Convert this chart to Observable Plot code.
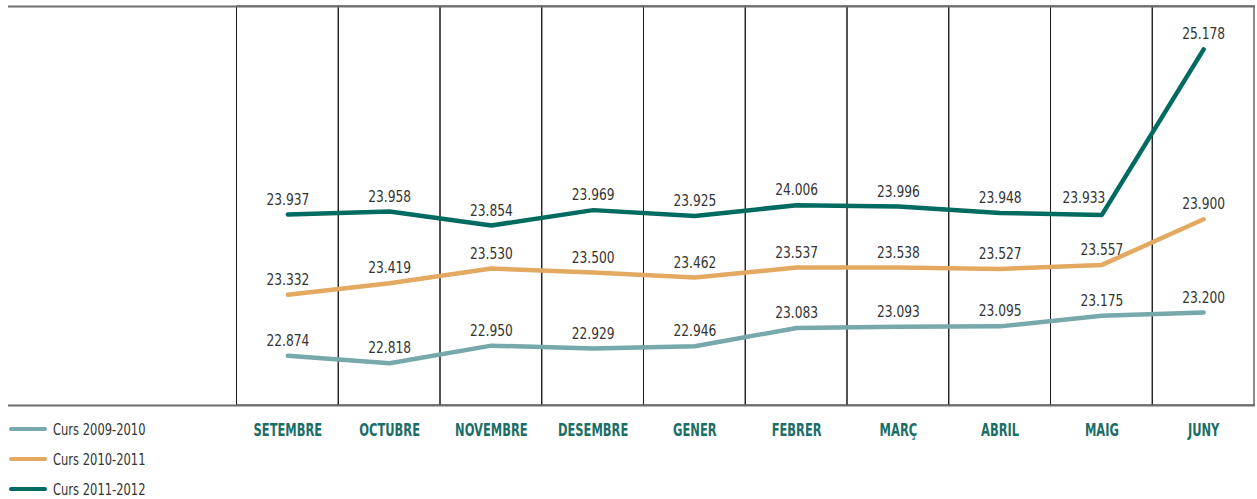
<!DOCTYPE html>
<html>
<head>
<meta charset="utf-8">
<script src="https://cdn.jsdelivr.net/npm/d3@7"></script>
<script src="https://cdn.jsdelivr.net/npm/@observablehq/plot@0.6"></script>
<style>
  html, body { margin: 0; padding: 0; background: #fff; }
  #wrap { position: relative; width: 1257px; height: 499px; }
  #legend { position: absolute; left: 9px; top: 414px; font-family: "DejaVu Sans Condensed", sans-serif; font-size: 16px; color: #333; }
  .item { display: flex; align-items: center; height: 30px; }
  .sw { width: 38px; height: 4.5px; border-radius: 3px; margin-right: 6px; flex: none; }
  .item span { display: inline-block; transform: scaleX(0.8); transform-origin: left center; white-space: nowrap; }
</style>
</head>
<body>
<div id="wrap"><div id="legend"></div></div>
<script>
const months = ["SETEMBRE","OCTUBRE","NOVEMBRE","DESEMBRE","GENER","FEBRER","MARÇ","ABRIL","MAIG","JUNY"];
const seriesNames = ["Curs 2009-2010","Curs 2010-2011","Curs 2011-2012"];
const colors = ["#77a8ab","#e3a960","#006b60"];
const curs0910 = [22.874,22.818,22.950,22.929,22.946,23.083,23.093,23.095,23.175,23.200];
const curs1011 = [23.332,23.419,23.530,23.500,23.462,23.537,23.538,23.527,23.557,23.900];
const curs1112 = [23.937,23.958,23.854,23.969,23.925,24.006,23.996,23.948,23.933,25.178];
const yDomain = [22.5, 25.5];

const allSeries = [curs0910, curs1011, curs1112];
const data = [];
allSeries.forEach((vals, si) => vals.forEach((v, i) => data.push({month: months[i], value: v, serie: seriesNames[si]})));

const fmt = v => v.toFixed(3);
// the one label the original nudges left so it clears the steep final segment
const isNudged = d => d.serie === seriesNames[2] && d.month === months[8];

const chart = Plot.plot({
  width: 1257,
  height: 499,
  marginLeft: 236.5,
  marginRight: 3,
  marginTop: 6,
  marginBottom: 94,
  style: {fontFamily: "'DejaVu Sans Condensed', sans-serif", background: "#fff"},
  x: {type: "band", domain: months, padding: 0, round: false, label: null},
  y: {domain: yDomain, axis: null},
  color: {domain: seriesNames, range: colors},
  marks: [
    Plot.barY(months, {x: d => d, y1: yDomain[0], y2: yDomain[1], fill: "none", stroke: "#1a1a1a", strokeWidth: 1, insetLeft: 0, insetRight: 0}),
    Plot.ruleY(yDomain, {stroke: "#6e6e6e", strokeWidth: 2, insetLeft: -228.5, insetRight: -1}),
    Plot.line(data, {x: "month", y: "value", z: "serie", stroke: "serie", strokeWidth: 4.5, strokeLinecap: "round", strokeLinejoin: "round"}),
    Plot.text(data.filter(d => !isNudged(d)), {x: "month", y: "value", text: d => fmt(d.value), dy: -15, fontSize: 16, fill: "#333", className: "vals"}),
    Plot.text(data.filter(isNudged), {x: "month", y: "value", text: d => fmt(d.value), dy: -17, dx: -18, fontSize: 16, fill: "#333", className: "vals"}),
    Plot.axisX({tickSize: 0, tickPadding: 18, fontSize: 17, fontWeight: "bold", fill: "#1b6e65", label: null, className: "months"})
  ]
});
document.getElementById("wrap").prepend(chart);

function condense(selector, s) {
  chart.querySelectorAll(selector).forEach(t => {
    const len = t.getComputedTextLength();
    if (len > 0) {
      t.setAttribute("textLength", (len * s).toFixed(2));
      t.setAttribute("lengthAdjust", "spacingAndGlyphs");
    }
  });
}
condense(".vals text", 0.85);
condense(".months text", 0.75);

const legend = document.getElementById("legend");
seriesNames.forEach((n, i) => {
  const it = document.createElement("div");
  it.className = "item";
  const sw = document.createElement("div");
  sw.className = "sw";
  sw.style.background = colors[i];
  const t = document.createElement("span");
  t.textContent = n;
  it.appendChild(sw); it.appendChild(t);
  legend.appendChild(it);
});
</script>
</body>
</html>
